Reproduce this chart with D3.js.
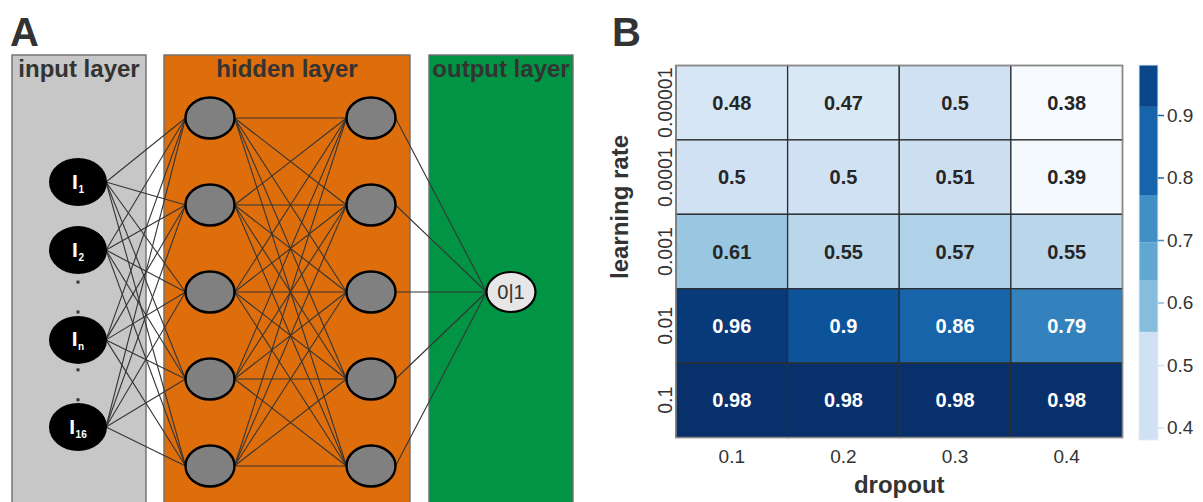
<!DOCTYPE html>
<html>
<head>
<meta charset="utf-8">
<script src="https://cdn.jsdelivr.net/npm/d3@7"></script>
<style>
  html, body { margin: 0; padding: 0; background: #fff; }
  svg { display: block; font-family: "Liberation Sans", Arial, Helvetica, sans-serif; }
</style>
</head>
<body>
<svg id="fig" width="1203" height="502"></svg>
<script>
// ---------- Panel A: network architecture ----------
const layerNames = ["input layer", "hidden layer", "output layer"];
const inputNodes = ["1", "2", "n", "16"];
const hiddenLayerSizes = [5, 5];
const outputLabel = "0|1";

// ---------- Panel B: grid search accuracy ----------
const dropoutRates = ["0.1", "0.2", "0.3", "0.4"];
const learningRates = ["0.00001", "0.0001", "0.001", "0.01", "0.1"];
const accuracy = [
  [0.48, 0.47, 0.50, 0.38],
  [0.50, 0.50, 0.51, 0.39],
  [0.61, 0.55, 0.57, 0.55],
  [0.96, 0.90, 0.86, 0.79],
  [0.98, 0.98, 0.98, 0.98]
];
const colorbarTicks = [0.4, 0.5, 0.6, 0.7, 0.8, 0.9];
// stepped legend strip: [from, to, shade]
const colorbarSteps = [
  [0.380, 0.553, 0.50],
  [0.553, 0.635, 0.64],
  [0.635, 0.696, 0.70],
  [0.696, 0.772, 0.76],
  [0.772, 0.913, 0.86],
  [0.913, 0.980, 0.93]
];

const svg = d3.select("#fig");
const ink = "#333333";

// ================= Panel A =================
const gA = svg.append("g");
gA.append("text").attr("x", 10).attr("y", 46)
  .attr("font-size", 40).attr("font-weight", "bold").attr("fill", ink).text("A");

const boxes = [
  { name: layerNames[0], x0: 12, x1: 146, fill: "#c6c7c6" },
  { name: layerNames[1], x0: 164, x1: 410, fill: "#de6e0b" },
  { name: layerNames[2], x0: 429, x1: 573, fill: "#009444" }
];
const boxTop = 55;
gA.selectAll("rect.layer").data(boxes).join("rect")
  .attr("class", "layer")
  .attr("x", d => d.x0).attr("y", boxTop)
  .attr("width", d => d.x1 - d.x0).attr("height", 520 - boxTop)
  .attr("fill", d => d.fill).attr("stroke", "#6e6e6e").attr("stroke-width", 1.4);

gA.selectAll("text.layer").data(boxes).join("text")
  .attr("class", "layer")
  .attr("x", d => (d.x0 + d.x1) / 2).attr("y", 77)
  .attr("text-anchor", "middle").attr("font-size", 24).attr("font-weight", "bold")
  .attr("fill", ink)
  .each(function (d) {
    const w = d.x1 - d.x0 - 4;
    const t = d3.select(this).text(d.name);
    if (this.getComputedTextLength() > w) t.attr("textLength", w).attr("lengthAdjust", "spacingAndGlyphs");
  });

// node geometry
const colX = { input: 78, h: [210, 371], out: 511 };
const inRx = 29, inRy = 24, hRx = 24.5, hRy = 20.5, oRx = 24.5, oRy = 20;

// input nodes sit on slots, with ellipsis dots in the gaps
const inputSlot = [0, 1, 2.32, 3.6];
const slotY = d3.scaleLinear().domain([0, 3.6]).range([182, 427]);
const inputs = inputNodes.map((lab, i) => ({ lab, x: colX.input, y: slotY(inputSlot[i]) }));
const dotSlots = [1.47, 1.91, 2.76, 3.2];

const hiddenY = d3.scalePoint().domain(d3.range(5)).range([118, 466]);
const hidden = hiddenLayerSizes.map((n, l) =>
  d3.range(n).map(i => ({ x: colX.h[l], y: hiddenY(i) })));
const output = { x: colX.out, y: hiddenY(2) };

// connections
const links = [];
inputs.forEach(a => hidden[0].forEach(b =>
  links.push([a.x + inRx - 1, a.y, b.x - hRx, b.y])));
hidden[0].forEach(a => hidden[1].forEach(b =>
  links.push([a.x + hRx, a.y, b.x - hRx, b.y])));
hidden[1].forEach(a => links.push([a.x + hRx, a.y, output.x - oRx, output.y]));

gA.append("g").selectAll("line").data(links).join("line")
  .attr("x1", d => d[0]).attr("y1", d => d[1])
  .attr("x2", d => d[2]).attr("y2", d => d[3])
  .attr("stroke", "#353535").attr("stroke-width", 1.1);

// ellipsis dots between input nodes
gA.append("g").selectAll("rect").data(dotSlots).join("rect")
  .attr("x", colX.input - 1.5).attr("y", d => slotY(d) - 1.5)
  .attr("width", 3).attr("height", 3).attr("fill", "#333");

// input neurons
const inG = gA.append("g").selectAll("g").data(inputs).join("g")
  .attr("transform", d => `translate(${d.x},${d.y})`);
inG.append("ellipse").attr("rx", inRx).attr("ry", inRy).attr("fill", "#000");
const lbl = inG.append("text").attr("text-anchor", "middle").attr("y", 6.5)
  .attr("fill", "#fff").attr("font-weight", "bold");
lbl.append("tspan").attr("font-size", 21).text("I");
lbl.append("tspan").attr("font-size", 10).attr("dy", 4).attr("dx", 0.5).text(d => d.lab);

// hidden neurons
gA.append("g").selectAll("ellipse").data(hidden.flat()).join("ellipse")
  .attr("cx", d => d.x).attr("cy", d => d.y).attr("rx", hRx).attr("ry", hRy)
  .attr("fill", "#808080").attr("stroke", "#000").attr("stroke-width", 2.4);

// output neuron
gA.append("ellipse").attr("cx", output.x).attr("cy", output.y)
  .attr("rx", oRx).attr("ry", oRy)
  .attr("fill", "#e6e6e6").attr("stroke", "#000").attr("stroke-width", 2.2);
gA.append("text").attr("x", output.x).attr("y", output.y + 7)
  .attr("text-anchor", "middle").attr("font-size", 20).attr("fill", ink)
  .text(outputLabel);

// ================= Panel B =================
const gB = svg.append("g");
gB.append("text").attr("x", 612).attr("y", 46)
  .attr("font-size", 40).attr("font-weight", "bold").attr("fill", ink).text("B");

const hm = { x0: 676, x1: 1122.5, y0: 65.5, y1: 437.5 };
const x = d3.scaleBand().domain(dropoutRates).range([hm.x0, hm.x1]);
const y = d3.scaleBand().domain(learningRates).range([hm.y0, hm.y1]);
const cdom = [0.38, 0.98];
const color = d3.scaleSequential(d3.interpolateBlues).domain(cdom);

const cells = [];
learningRates.forEach((lr, r) => dropoutRates.forEach((dr, c) =>
  cells.push({ lr, dr, v: accuracy[r][c] })));

gB.append("g").selectAll("rect").data(cells).join("rect")
  .attr("x", d => x(d.dr)).attr("y", d => y(d.lr))
  .attr("width", x.bandwidth()).attr("height", y.bandwidth())
  .attr("fill", d => color(d.v)).attr("stroke", "#2e2e2e").attr("stroke-width", 1.3);

gB.append("rect").attr("x", hm.x0).attr("y", hm.y0)
  .attr("width", hm.x1 - hm.x0).attr("height", hm.y1 - hm.y0)
  .attr("fill", "none").attr("stroke", "#8a8a8a").attr("stroke-width", 1.4);

gB.append("g").selectAll("text").data(cells).join("text")
  .attr("x", d => x(d.dr) + x.bandwidth() / 2)
  .attr("y", d => y(d.lr) + y.bandwidth() / 2 + 7)
  .attr("text-anchor", "middle").attr("font-size", 20).attr("font-weight", "bold")
  .attr("fill", d => d.v > 0.7 ? "#ffffff" : "#262626")
  .text(d => String(d.v).replace(/^0\.(\d)0$/, "0.$1"));

// axes
const xAxis = gB.append("g").attr("transform", `translate(0,${hm.y1})`)
  .call(d3.axisBottom(x).tickSize(0).tickPadding(12));
xAxis.select(".domain").remove();
xAxis.selectAll("text").attr("font-size", 19).attr("fill", ink)
  .attr("font-family", "Liberation Sans, Arial, sans-serif");

const yAxis = gB.append("g").attr("transform", `translate(${hm.x0},0)`)
  .call(d3.axisLeft(y).tickSize(0));
yAxis.select(".domain").remove();
yAxis.selectAll("text")
  .attr("transform", "rotate(-90)")
  .attr("text-anchor", "middle")
  .attr("x", 0).attr("y", -4).attr("dy", 0)
  .attr("font-size", 19.5).attr("fill", ink)
  .attr("font-family", "Liberation Sans, Arial, sans-serif");

gB.append("text").attr("x", (hm.x0 + hm.x1) / 2).attr("y", 493)
  .attr("text-anchor", "middle").attr("font-size", 24).attr("font-weight", "bold")
  .attr("fill", ink).text("dropout");

gB.append("text").attr("transform", "translate(628,207) rotate(-90)")
  .attr("text-anchor", "middle").attr("font-size", 24).attr("font-weight", "bold")
  .attr("fill", ink).text("learning rate");

// colour bar
const cb = { x0: 1139, x1: 1158 };
const cy = d3.scaleLinear().domain(cdom).range([440, 65]);
gB.append("g").selectAll("rect").data(colorbarSteps).join("rect")
  .attr("x", cb.x0).attr("y", d => cy(d[1]))
  .attr("width", cb.x1 - cb.x0).attr("height", d => cy(d[0]) - cy(d[1]))
  .attr("fill", d => color(d[2]));
gB.append("rect").attr("x", cb.x0).attr("y", cy(cdom[1]))
  .attr("width", cb.x1 - cb.x0).attr("height", cy(cdom[0]) - cy(cdom[1]))
  .attr("fill", "none").attr("stroke", "#e3edf7").attr("stroke-width", 1);

const stepShade = v => {
  const s = colorbarSteps.find(d => v >= d[0] && v < d[1]);
  return color(s ? s[2] : v);
};
const cAxis = gB.append("g").attr("transform", `translate(${cb.x1},0)`)
  .call(d3.axisRight(cy).tickValues(colorbarTicks).tickSize(6).tickPadding(3)
    .tickFormat(d3.format(".1f")));
cAxis.select(".domain").remove();
cAxis.selectAll("line").attr("stroke", d => stepShade(d)).attr("stroke-width", 1.5);
cAxis.selectAll("text").attr("font-size", 19).attr("fill", ink)
  .attr("font-family", "Liberation Sans, Arial, sans-serif");
</script>
</body>
</html>
